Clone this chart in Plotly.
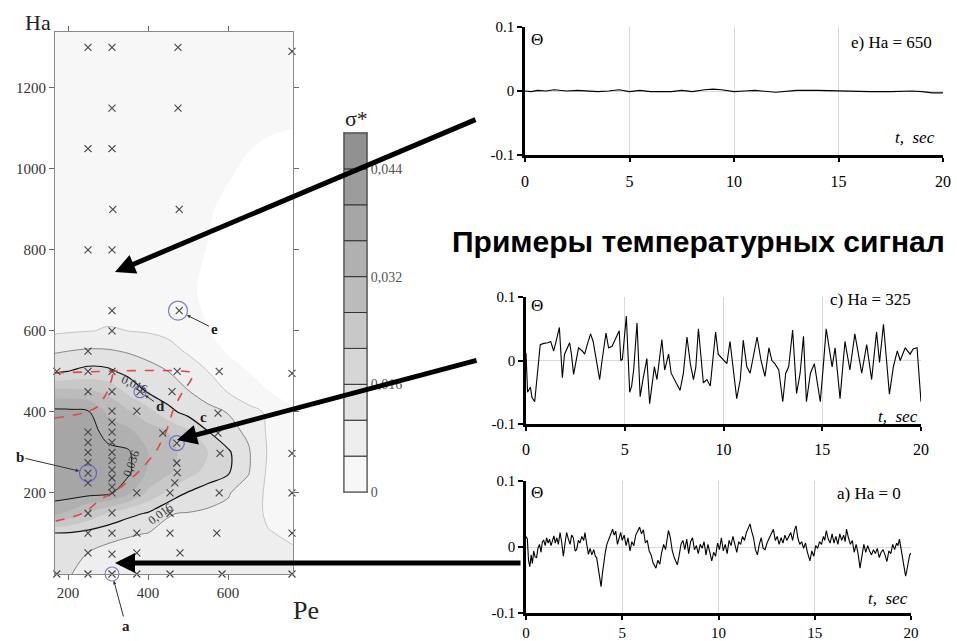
import numpy as np
import plotly.graph_objects as go

W, H = 957, 641
def px(x): return x / W
def py(y): return 1 - y / H

SERIF = "Liberation Serif, Times New Roman, serif"

# ---------------- contour map data (sigma* over Pe, Ha) ----------------
pe_grid = [167, 210, 250, 300, 350, 400, 450, 500, 550, 600, 650, 700, 762]
ha_grid = [0, 50, 100, 150, 200, 250, 300, 350, 400, 450, 500, 550, 600, 650,
           700, 800, 900, 1000, 1100, 1200, 1340]
sigma = [
    [0.0130, 0.0100, 0.0085, 0.0075, 0.0072, 0.0070, 0.0068, 0.0066, 0.0064, 0.0062, 0.0060, 0.0058, 0.0056],
    [0.0140, 0.0125, 0.0098, 0.0085, 0.0080, 0.0076, 0.0072, 0.0070, 0.0068, 0.0066, 0.0063, 0.0058, 0.0054],
    [0.0155, 0.0150, 0.0138, 0.0118, 0.0106, 0.0099, 0.0094, 0.0090, 0.0085, 0.0080, 0.0070, 0.0052, 0.0045],
    [0.0330, 0.0300, 0.0250, 0.0210, 0.0175, 0.0155, 0.0102, 0.0098, 0.0092, 0.0088, 0.0065, 0.0045, 0.0040],
    [0.0380, 0.0380, 0.0375, 0.0370, 0.0330, 0.0250, 0.0200, 0.0155, 0.0128, 0.0105, 0.0075, 0.0042, 0.0030],
    [0.0390, 0.0390, 0.0385, 0.0380, 0.0368, 0.0310, 0.0270, 0.0230, 0.0190, 0.0165, 0.0105, 0.0042, 0.0020],
    [0.0390, 0.0390, 0.0385, 0.0372, 0.0366, 0.0320, 0.0280, 0.0240, 0.0210, 0.0168, 0.0108, 0.0046, 0.0020],
    [0.0390, 0.0390, 0.0380, 0.0345, 0.0330, 0.0290, 0.0260, 0.0220, 0.0162, 0.0120, 0.0092, 0.0044, 0.0015],
    [0.0372, 0.0370, 0.0365, 0.0310, 0.0270, 0.0230, 0.0175, 0.0140, 0.0120, 0.0098, 0.0070, 0.0042, 0.0010],
    [0.0280, 0.0280, 0.0270, 0.0250, 0.0200, 0.0155, 0.0128, 0.0103, 0.0075, 0.0048, 0.0015, 0.0002, -0.0010],
    [0.0150, 0.0163, 0.0175, 0.0170, 0.0142, 0.0120, 0.0100, 0.0075, 0.0050, 0.0020, 0.0000, -0.0012, -0.0020],
    [0.0095, 0.0102, 0.0108, 0.0106, 0.0096, 0.0085, 0.0065, 0.0045, 0.0022, -0.0002, -0.0012, -0.0018, -0.0020],
    [0.0042, 0.0046, 0.0049, 0.0052, 0.0050, 0.0046, 0.0040, 0.0022, 0.0002, -0.0010, -0.0018, -0.0020, -0.0020],
    [0.0038, 0.0040, 0.0042, 0.0043, 0.0042, 0.0040, 0.0036, 0.0016, -0.0003, -0.0015, -0.0020, -0.0020, -0.0020],
    [0.0035, 0.0036, 0.0037, 0.0038, 0.0038, 0.0037, 0.0034, 0.0012, -0.0006, -0.0016, -0.0020, -0.0020, -0.0020],
    [0.0035, 0.0035, 0.0035, 0.0035, 0.0035, 0.0035, 0.0035, 0.0018, -0.0001, -0.0012, -0.0018, -0.0020, -0.0020],
    [0.0035, 0.0035, 0.0035, 0.0035, 0.0035, 0.0035, 0.0035, 0.0030, 0.0008, -0.0007, -0.0015, -0.0018, -0.0020],
    [0.0035, 0.0035, 0.0035, 0.0035, 0.0035, 0.0035, 0.0035, 0.0035, 0.0025, 0.0010, -0.0005, -0.0012, -0.0015],
    [0.0035, 0.0035, 0.0035, 0.0035, 0.0035, 0.0035, 0.0035, 0.0035, 0.0035, 0.0030, 0.0018, 0.0008, 0.0000],
    [0.0035, 0.0035, 0.0035, 0.0035, 0.0035, 0.0035, 0.0035, 0.0035, 0.0035, 0.0035, 0.0035, 0.0035, 0.0035],
    [0.0035, 0.0035, 0.0035, 0.0035, 0.0035, 0.0035, 0.0035, 0.0035, 0.0035, 0.0035, 0.0035, 0.0035, 0.0035],
]
sigma_edges = [-0.002, 0.0, 0.005, 0.010, 0.016, 0.021, 0.026, 0.032, 0.036, 0.040, 0.044, 0.048]
band_colors = ['#ffffff', '#f7f7f7', '#eeeeee', '#e2e2e2', '#d6d6d6', '#c8c8c8',
               '#bbbbbb', '#b0b0b0', '#a6a6a6', '#9c9c9c', '#919191']
cbar_ticks = [0.0, 0.016, 0.032, 0.044]
cbar_text = ["0", "0,016", "0,032", "0,044"]

# measurement points
pe_pts = [300, 250, 310, 475, 760, 167, 310, 475, 250, 310, 167, 312, 478, 250, 310,
          310, 478, 167, 310, 250,
          172, 250, 310, 473, 578, 760,
          250, 310, 380, 460,
          167, 310, 372, 575,
          310, 250, 310, 437, 575,
          250, 310, 472,
          167, 250, 310, 580, 760,
          250, 310, 472,
          250, 310, 473,
          250, 310, 467,
          310, 167, 310, 372, 455, 578, 760,
          250, 310, 455,
          167, 250, 310, 372, 455, 572, 760,
          250, 310, 372, 480,
          172, 250, 310, 372, 455, 585, 760]
ha_pts = [1340, 1300, 1300, 1300, 1290, 1200, 1150, 1150, 1050, 1050, 900, 900, 900, 800, 800,
          650, 650, 600, 600, 550,
          500, 500, 500, 500, 500, 495,
          450, 450, 450, 450,
          402, 402, 402, 397,
          375, 350, 350, 348, 348,
          325, 325, 323,
          300, 300, 300, 298, 298,
          275, 280, 274,
          249, 257, 250,
          225, 237, 225,
          215, 200, 200, 200, 200, 200, 200,
          150, 151, 150,
          101, 101, 101, 101, 101, 101, 101,
          52, 49, 52, 52,
          0, 0, 0, 0, 0, 0, 0]
circ_pe = [310, 250, 472, 380, 475]
circ_ha = [0, 249, 323, 450, 650]

# red dashed region boundary
red_outer_pe = [167, 513, 505, 485, 463, 447, 422, 388, 363, 322, 280, 238, 167]
red_outer_ha = [496, 496, 475, 447, 405, 356, 306, 264, 240, 207, 183, 150, 130]
red_inner_pe = [167, 238, 272, 297, 310, 312]
red_inner_ha = [385, 397, 412, 447, 484, 496]

# ---------------- temperature signals ----------------
sig_e = [(0.0, 0.000), (0.3, -0.001), (0.6, 0.001), (1.0, 0.000), (1.4, 0.002), (2.0, 0.000),
         (2.5, 0.001), (3.0, 0.000), (3.5, -0.001), (4.0, 0.000), (4.5, 0.002), (5.0, -0.001),
         (5.5, 0.001), (6.0, -0.001), (7.0, -0.001), (7.5, 0.001), (8.0, -0.001), (8.6, 0.002),
         (9.0, 0.003), (9.4, 0.002), (10.0, -0.001), (10.5, 0.000), (11.0, 0.001), (12.0, -0.002),
         (12.5, 0.000), (13.0, 0.001), (14.0, 0.001), (15.0, 0.000), (15.5, -0.001), (16.5, -0.001),
         (17.5, -0.001), (18.5, 0.000), (19.0, -0.001), (19.5, -0.003), (20.0, -0.003)]

sig_c = [(0.00, 0.012), (0.08, -0.050), (0.22, -0.042), (0.30, -0.058), (0.44, -0.065), (0.55, -0.030),
         (0.72, 0.025), (0.90, 0.027), (1.10, 0.028), (1.25, 0.030), (1.40, 0.015), (1.50, 0.027),
         (1.69, 0.052), (1.84, -0.027), (1.95, 0.010), (2.21, 0.028), (2.30, 0.010), (2.41, -0.022),
         (2.55, 0.005), (2.66, 0.020), (2.85, 0.015), (2.97, 0.010), (3.10, 0.025), (3.27, 0.042),
         (3.40, 0.030), (3.73, -0.030), (3.85, 0.000), (4.05, 0.043), (4.18, 0.020), (4.35, 0.022),
         (4.47, 0.030), (4.72, 0.047), (4.80, 0.000), (4.88, 0.002), (5.08, 0.070), (5.25, -0.050),
         (5.35, -0.040), (5.45, -0.015), (5.62, 0.059), (5.78, -0.057), (5.92, -0.030), (6.12, 0.003),
         (6.26, -0.068), (6.36, -0.045), (6.50, -0.010), (6.63, -0.030), (6.88, 0.033), (7.02, -0.015),
         (7.22, 0.010), (7.35, -0.020), (7.80, -0.047), (7.97, -0.020), (8.15, 0.037), (8.32, -0.005),
         (8.48, -0.030), (8.60, -0.010), (8.73, 0.050), (8.98, -0.035), (9.16, -0.030), (9.33, -0.040),
         (9.60, 0.045), (9.73, 0.010), (10.00, 0.000), (10.17, -0.005), (10.33, 0.030), (10.67, -0.060),
         (10.85, -0.030), (11.00, 0.032), (11.18, -0.010), (11.35, -0.020), (11.70, 0.037), (11.90, 0.000),
         (12.10, -0.025), (12.30, 0.020), (12.45, 0.000), (12.60, -0.005), (12.80, -0.015), (13.00, -0.065),
         (13.15, -0.020), (13.30, -0.010), (13.50, 0.048), (13.70, -0.052), (13.88, -0.020), (14.05, 0.038),
         (14.20, -0.065), (14.40, -0.020), (14.60, -0.005), (14.90, -0.065), (15.05, -0.010), (15.20, 0.050),
         (15.35, 0.020), (15.50, -0.010), (15.65, 0.020), (15.90, -0.060), (16.15, 0.030), (16.40, -0.015),
         (16.65, 0.042), (16.82, 0.010), (17.00, -0.020), (17.25, 0.025), (17.50, -0.030), (17.75, 0.045),
         (17.90, -0.003), (18.10, 0.057), (18.40, -0.053), (18.60, -0.010), (18.80, 0.015), (18.95, 0.000),
         (19.20, 0.020), (19.45, 0.010), (19.60, 0.018), (19.80, 0.020), (20.00, -0.065)]

sig_a = [(0.00, 0.016), (0.07, 0.012), (0.13, -0.020), (0.20, -0.030), (0.27, -0.012), (0.33, -0.025),
         (0.40, -0.006), (0.47, -0.015), (0.55, -0.016), (0.62, -0.002), (0.70, 0.004), (0.78, -0.008),
         (0.85, 0.008), (0.92, 0.010), (1.00, 0.002), (1.07, 0.014), (1.15, 0.006), (1.22, 0.012),
         (1.30, 0.002), (1.38, 0.010), (1.45, 0.017), (1.52, 0.006), (1.60, 0.014), (1.68, 0.004),
         (1.77, 0.022), (1.85, 0.008), (1.94, -0.014), (2.02, 0.004), (2.11, 0.022), (2.20, 0.012),
         (2.29, 0.004), (2.37, 0.018), (2.46, 0.014), (2.55, -0.006), (2.63, -0.004), (2.72, 0.010),
         (2.80, 0.006), (2.90, 0.016), (3.00, 0.010), (3.06, 0.022), (3.15, 0.008), (3.24, -0.011),
         (3.33, -0.002), (3.42, -0.012), (3.52, -0.004), (3.60, -0.014), (3.67, -0.016), (3.75, -0.030),
         (3.83, -0.045), (3.90, -0.060), (3.97, -0.040), (4.05, -0.020), (4.12, -0.008), (4.20, 0.004),
         (4.30, 0.012), (4.40, 0.022), (4.50, 0.027), (4.58, 0.018), (4.66, 0.024), (4.75, 0.004),
         (4.84, 0.014), (4.92, 0.022), (5.00, 0.010), (5.10, 0.018), (5.20, 0.002), (5.30, 0.014),
         (5.40, -0.006), (5.50, 0.008), (5.60, 0.002), (5.70, 0.018), (5.80, 0.024), (5.90, 0.030),
         (6.00, 0.020), (6.10, 0.026), (6.20, 0.006), (6.30, 0.010), (6.40, -0.006), (6.50, -0.012),
         (6.60, -0.024), (6.75, -0.032), (6.85, -0.020), (6.95, -0.026), (7.05, -0.008), (7.15, 0.004),
         (7.25, -0.004), (7.40, 0.025), (7.50, 0.014), (7.60, -0.006), (7.70, -0.016), (7.86, -0.027),
         (7.95, -0.014), (8.05, 0.004), (8.15, 0.010), (8.25, -0.004), (8.35, 0.012), (8.45, -0.010),
         (8.55, 0.008), (8.65, 0.014), (8.75, -0.004), (8.85, 0.002), (8.95, -0.010), (9.05, 0.004),
         (9.15, -0.002), (9.25, 0.008), (9.35, -0.012), (9.45, 0.004), (9.55, -0.008), (9.65, -0.021),
         (9.75, -0.008), (9.85, -0.014), (9.95, 0.006), (10.05, -0.004), (10.15, 0.014), (10.25, -0.006),
         (10.35, 0.004), (10.45, -0.010), (10.55, 0.010), (10.65, 0.002), (10.75, 0.016), (10.85, 0.004),
         (10.95, -0.008), (11.05, 0.008), (11.15, 0.004), (11.25, 0.016), (11.35, 0.010), (11.45, 0.022),
         (11.55, 0.028), (11.64, 0.035), (11.72, 0.024), (11.82, 0.014), (11.92, -0.004), (12.02, -0.012),
         (12.12, 0.004), (12.22, 0.014), (12.32, -0.002), (12.42, -0.004), (12.52, 0.006), (12.62, 0.012),
         (12.72, 0.020), (12.85, 0.027), (12.95, 0.010), (13.05, 0.016), (13.15, 0.004), (13.25, 0.014),
         (13.35, 0.006), (13.45, 0.018), (13.55, 0.010), (13.65, 0.016), (13.75, 0.022), (13.85, 0.010),
         (13.95, 0.026), (14.03, 0.032), (14.12, 0.014), (14.22, 0.004), (14.32, 0.008), (14.42, -0.002),
         (14.52, 0.006), (14.62, -0.008), (14.75, -0.021), (14.85, -0.006), (14.95, -0.014), (15.05, 0.002),
         (15.15, -0.002), (15.25, 0.008), (15.35, 0.004), (15.45, 0.016), (15.52, 0.010), (15.60, 0.025),
         (15.70, 0.012), (15.80, 0.006), (15.90, 0.020), (16.00, 0.006), (16.10, 0.016), (16.20, 0.004),
         (16.30, 0.020), (16.40, 0.010), (16.50, 0.018), (16.58, 0.008), (16.65, 0.027), (16.75, 0.014),
         (16.85, 0.004), (16.95, 0.010), (17.05, -0.008), (17.15, 0.004), (17.25, -0.010), (17.35, -0.032),
         (17.45, -0.012), (17.55, 0.004), (17.65, -0.008), (17.75, 0.002), (17.85, -0.006), (17.95, -0.012),
         (18.05, -0.004), (18.15, -0.010), (18.25, -0.002), (18.35, -0.016), (18.45, -0.008), (18.55, -0.004),
         (18.65, -0.012), (18.75, -0.022), (18.85, -0.006), (18.95, -0.010), (19.05, 0.004), (19.15, -0.004),
         (19.25, 0.006), (19.32, 0.002), (19.40, 0.012), (19.48, -0.006), (19.56, -0.016), (19.64, -0.030),
         (19.72, -0.044), (19.78, -0.036), (19.86, -0.022), (19.93, -0.012), (20.00, -0.009)]

t_ticks = [0, 5, 10, 15, 20]
theta_ticks = [-0.1, 0, 0.1]
theta_text = ["-0.1", "0", "0.1"]

# ---------------- figure ----------------
fig = go.Figure()

nlev = len(sigma_edges)
z_idx = np.interp(np.array(sigma), sigma_edges, np.arange(nlev))
cscale = [[i / 10, band_colors[i]] for i in range(11)]

fig.add_trace(go.Contour(
    x=pe_grid, y=ha_grid, z=z_idx, xaxis="x", yaxis="y",
    autocontour=False, contours=dict(start=1, end=10, size=1, coloring="fill", showlines=False),
    colorscale=cscale, showscale=False, line=dict(width=0, smoothing=1.0), hoverinfo="skip"))

for lev, col, wd in [(2, "#c4c4c4", 1.0), (3, "#858585", 1.0), (4, "#111111", 1.2), (8, "#111111", 1.0)]:
    fig.add_trace(go.Contour(
        x=pe_grid, y=ha_grid, z=z_idx, xaxis="x", yaxis="y",
        autocontour=False, contours=dict(start=lev, end=lev, size=1, coloring="none", showlines=True),
        line=dict(color=col, width=wd, smoothing=1.0), showscale=False, hoverinfo="skip"))

for xs, ys in [(red_outer_pe, red_outer_ha), (red_inner_pe, red_inner_ha)]:
    fig.add_trace(go.Scatter(x=xs, y=ys, mode="lines", xaxis="x", yaxis="y",
                             line=dict(color="#e04848", width=1.6, dash="dash", shape="spline", smoothing=0.6),
                             hoverinfo="skip", showlegend=False))

fig.add_trace(go.Scatter(x=pe_pts, y=ha_pts, mode="markers", xaxis="x", yaxis="y", cliponaxis=False,
                         marker=dict(symbol="x-thin", size=7, color="#444444",
                                     line=dict(color="#444444", width=1.1)),
                         hoverinfo="skip", showlegend=False))
fig.add_trace(go.Scatter(x=circ_pe, y=circ_ha, mode="markers", xaxis="x", yaxis="y", cliponaxis=False,
                         marker=dict(symbol="circle-open", size=[14, 17, 15, 12, 19], color="#4848c8",
                                     line=dict(color="#4848c8", width=1.2)),
                         hoverinfo="skip", showlegend=False))

# colorbar drawn as stacked bars
nb = len(band_colors) - 1
fig.add_trace(go.Bar(x=[0] * nb, y=[1] * nb, base=list(range(nb)), width=1, xaxis="x2", yaxis="y2",
                     marker=dict(color=band_colors[1:], line=dict(color="#333333", width=1)),
                     hoverinfo="skip", showlegend=False))
cb_pos = np.interp(cbar_ticks, sigma_edges[1:], np.arange(nlev - 1))

# signals
for sig, xa, ya in [(sig_e, "x3", "y3"), (sig_c, "x4", "y4"), (sig_a, "x5", "y5")]:
    fig.add_trace(go.Scatter(x=[p[0] for p in sig], y=[p[1] for p in sig], mode="lines",
                             xaxis=xa, yaxis=ya, line=dict(color="black", width=1.1),
                             hoverinfo="skip", showlegend=False))

layout = dict(
    width=W, height=H, margin=dict(l=0, r=0, t=0, b=0, autoexpand=False),
    paper_bgcolor="white", plot_bgcolor="rgba(0,0,0,0)", showlegend=False,
    barmode="overlay",
    xaxis=dict(domain=[px(55), px(293)], range=[167.5, 762.5], anchor="y",
               tickvals=[200, 400, 600], ticks="outside", ticklen=5, tickcolor="#666",
               showline=True, linecolor="#888", mirror="ticks", showgrid=False, zeroline=False,
               automargin=False, tickfont=dict(family=SERIF, size=15, color="#333")),
    yaxis=dict(domain=[py(574), py(32)], range=[0, 1338], anchor="x",
               tickvals=[200, 400, 600, 800, 1000, 1200], ticks="outside", ticklen=5, tickcolor="#666",
               showline=True, linecolor="#888", mirror="ticks", showgrid=False, zeroline=False,
               automargin=False, tickfont=dict(family=SERIF, size=15, color="#333")),
    xaxis2=dict(domain=[px(344), px(367)], range=[-0.5, 0.5], anchor="y2", visible=True,
                showticklabels=False, ticks="", showline=True, linecolor="#777", mirror=True,
                showgrid=False, zeroline=False, automargin=False),
    yaxis2=dict(domain=[py(492), py(133)], range=[0, nb], anchor="x2", side="right",
                tickvals=list(cb_pos), ticktext=cbar_text, ticks="", showline=True, linecolor="#777",
                mirror=True, showgrid=False, zeroline=False, automargin=False,
                tickfont=dict(family=SERIF, size=14, color="#555")),
)

panels = [("3", 525, 943, 27, 155, 6, 16), ("4", 526, 921, 297, 424, 5, 16), ("5", 526, 911, 481, 613, 0, 15)]
for n, x0, x1, y0, y1, so, fs in panels:
    layout["xaxis" + n] = dict(domain=[px(x0), px(x1)], range=[0, 20], anchor="y" + n,
                               tickvals=t_ticks, ticks="outside", ticklen=4, tickwidth=2, tickcolor="black",
                               showline=True, linecolor="black", linewidth=2.5,
                               showgrid=True, gridcolor="#d9d9d9", gridwidth=1, zeroline=False,
                               automargin=False,
                               tickfont=dict(family=SERIF, size=fs, color="black"), ticklabelstandoff=so)
    layout["yaxis" + n] = dict(domain=[py(y1), py(y0)], range=[-0.1, 0.1], anchor="x" + n,
                               tickvals=theta_ticks, ticktext=theta_text, ticks="outside", ticklen=5,
                               tickwidth=2, tickcolor="black",
                               showline=True, linecolor="black", linewidth=2.5,
                               showgrid=True, gridcolor="#d9d9d9", gridwidth=1, zeroline=False,
                               automargin=False,
                               tickfont=dict(family=SERIF, size=15, color="black"))
fig.update_layout(**layout)

ann = []
def label(x, y, text, font, **kw):
    d = dict(x=px(x), y=py(y), xref="paper", yref="paper", text=text, showarrow=False,
             xanchor="center", yanchor="middle", font=font)
    d.update(kw)
    ann.append(d)

# axis titles of the map
label(38, 22, "Ha", dict(family=SERIF, size=22, color="#222"))
label(306, 610, "Pe", dict(family=SERIF, size=26, color="#222"))
label(356, 118, "σ*", dict(family=SERIF, size=22, color="#222"))
# contour labels
for x, y, t, a in [(134, 384, "0,016", 25), (160, 514, "0,016", -37), (131, 464, "0,036", -70)]:
    label(x, y, t, dict(family=SERIF, size=12, color="#333"), textangle=a)
# point letters
letter_font = dict(family=SERIF, size=15, color="#222")
for i, (txt, ax, ay, so) in enumerate([("a", 14, 52, 7), ("b", -68, -16, 9), (None, 0, 0, 0),
                                        ("d", 20, 14, 6), ("e", 36, 18, 10)]):
    if txt is None:
        continue
    ann.append(dict(x=circ_pe[i], y=circ_ha[i], xref="x", yref="y", text="<b>%s</b>" % txt,
                    ax=ax, ay=ay, arrowhead=2, arrowsize=0.7, arrowwidth=1, arrowcolor="#333",
                    standoff=so, font=letter_font))
label(203, 417, "<b>c</b>", letter_font)

# panel texts
for lab, xr, ylab, xt, yt, yth in [("e) Ha = 650", 936, 43, 937, 137, 40),
                                   ("c) Ha = 325", 915, 299, 920, 416, 305),
                                   ("a) Ha = 0", 905, 493, 910, 598, 492)]:
    label(xr, ylab, lab, dict(family=SERIF, size=17, color="black"),
          xanchor="right", bgcolor="white", borderpad=3)
    label(xt, yt, "<i>t,  sec</i>", dict(family=SERIF, size=17, color="black"), xanchor="right")
    label(537, yth, "Θ", dict(family=SERIF, size=17, color="black"))

# heading: only the part visible in the original (it runs to the right edge there)
label(450, 241, "<b>Примеры температурных сигнал</b>",
      dict(family="Liberation Sans, Arial, sans-serif", size=30, color="black"), xanchor="left")

# big arrows (tip at map location, tail at signal panel)
for tipx, tipy, tx, ty in [(115, 272, 477, 119), (177, 440, 478, 360), (115, 563, 522, 563)]:
    ann.append(dict(x=px(tipx), y=py(tipy), xref="paper", yref="paper", text="",
                    ax=tx - tipx, ay=ty - tipy, showarrow=True,
                    arrowhead=2, arrowsize=0.8, arrowwidth=5, arrowcolor="black", standoff=0))

fig.update_layout(annotations=ann)
fig.write_html("out.html")
